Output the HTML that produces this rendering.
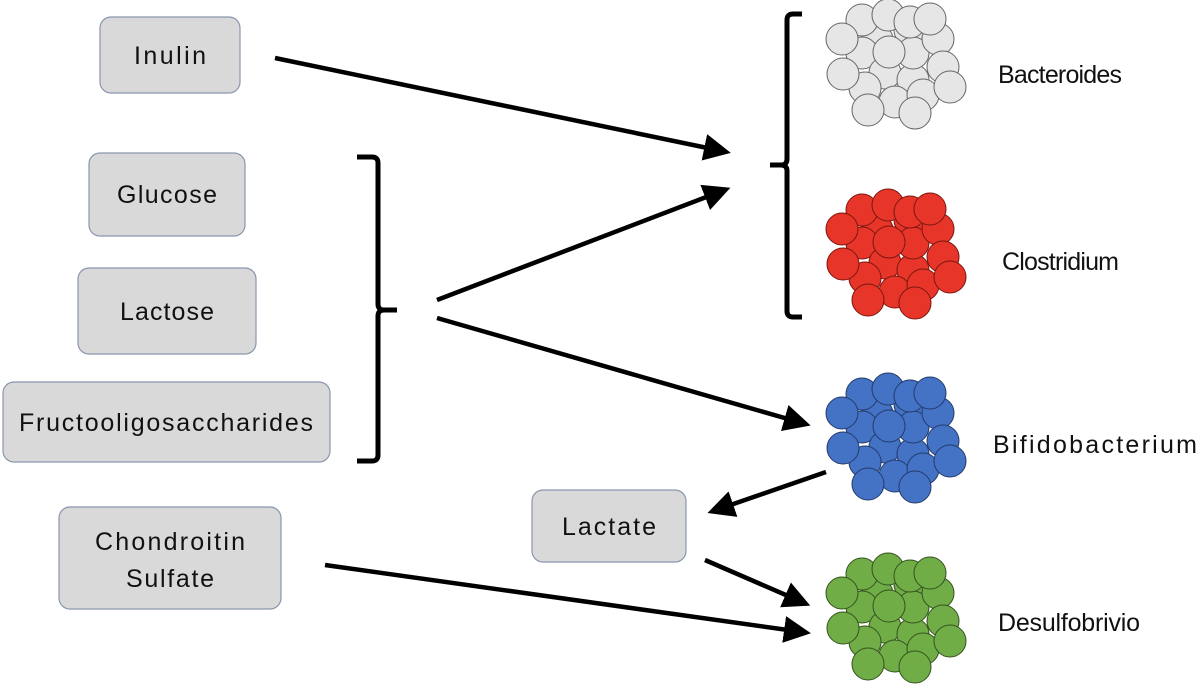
<!DOCTYPE html>
<html><head><meta charset="utf-8"><style>
html,body{margin:0;padding:0;background:#fff;}
svg{display:block;}
text{font-family:"Liberation Sans",sans-serif;font-size:25px;fill:#111;}
</style></head><body>
<svg width="1200" height="687" viewBox="0 0 1200 687" xmlns="http://www.w3.org/2000/svg">
<defs>
<marker id="ah" markerWidth="6" markerHeight="6" refX="4" refY="3" orient="auto" markerUnits="strokeWidth">
<path d="M0,0 L6,3 L0,6 z" fill="#000"/>
</marker>
<g id="cl">
<circle cx="67" cy="40" r="16"/><circle cx="100" cy="30" r="16"/><circle cx="52" cy="53" r="16"/>
<circle cx="75" cy="73" r="16"/><circle cx="103" cy="80" r="16"/><circle cx="85" cy="102" r="16"/>
<circle cx="113" cy="95" r="16"/><circle cx="55" cy="88" r="16"/><circle cx="103" cy="53" r="16"/>
<circle cx="128" cy="39" r="16"/><circle cx="133" cy="67" r="16"/>
<circle cx="52" cy="20" r="16"/><circle cx="78" cy="15" r="16"/><circle cx="100" cy="22" r="16"/>
<circle cx="120" cy="19" r="16"/><circle cx="32" cy="39" r="16"/><circle cx="79" cy="52" r="16"/>
<circle cx="33" cy="74" r="16"/><circle cx="140" cy="87" r="16"/><circle cx="58" cy="110" r="16"/>
<circle cx="105" cy="113" r="16"/>
</g>
</defs>
<g stroke="#8a96ad" stroke-width="1.2" fill="#d9d9d9">
<rect x="100" y="17" width="140" height="76" rx="11"/>
<rect x="89" y="153" width="156" height="83" rx="11"/>
<rect x="78" y="268" width="178" height="86" rx="11"/>
<rect x="3" y="382" width="327" height="80" rx="11"/>
<rect x="59" y="507" width="222" height="102" rx="11"/>
<rect x="532" y="490" width="154" height="72" rx="11"/>
</g>
<text x="170" y="64" text-anchor="middle" textLength="72">Inulin</text>
<text x="167" y="203" text-anchor="middle" textLength="100">Glucose</text>
<text x="167" y="320" text-anchor="middle" textLength="94">Lactose</text>
<text x="166" y="431" text-anchor="middle" textLength="294">Fructooligosaccharides</text>
<text x="170" y="550" text-anchor="middle" textLength="150">Chondroitin</text>
<text x="170" y="587" text-anchor="middle" textLength="88">Sulfate</text>
<text x="609" y="535" text-anchor="middle" textLength="94">Lactate</text>
<g fill="none" stroke="#000" stroke-width="5">
<path d="M357,157 H372 Q378,157 378,163 V304 Q378,310 384,310 H397 M384,310 Q378,310 378,316 V455 Q378,461 372,461 H357"/>
<path d="M802,14 H793 Q787,14 787,20 V159 Q787,165 781,165 H770 M781,165 Q787,165 787,171 V311 Q787,317 793,317 H802"/>
</g>
<g stroke="#000" stroke-width="4.5" marker-end="url(#ah)">
<line x1="275" y1="58" x2="722" y2="151"/>
<line x1="437" y1="300" x2="722" y2="191"/>
<line x1="437" y1="318" x2="802" y2="423"/>
<line x1="826" y1="472" x2="716" y2="510"/>
<line x1="705" y1="560" x2="802" y2="602"/>
<line x1="325" y1="565" x2="802" y2="632"/>
</g>
<use href="#cl" x="810" y="0" fill="#e6e6e6" stroke="#666" stroke-width="1"/>
<use href="#cl" x="810" y="190" fill="#e8352a" stroke="#7a160d" stroke-width="1"/>
<use href="#cl" x="810" y="374" fill="#4472c4" stroke="#233b6b" stroke-width="1"/>
<use href="#cl" x="810" y="554" fill="#70ad47" stroke="#34521f" stroke-width="1"/>
<text x="998" y="83" textLength="124">Bacteroides</text>
<text x="1002" y="270" textLength="117">Clostridium</text>
<text x="993" y="453" textLength="204">Bifidobacterium</text>
<text x="998" y="631" textLength="142">Desulfobrivio</text>
</svg>
</body></html>
